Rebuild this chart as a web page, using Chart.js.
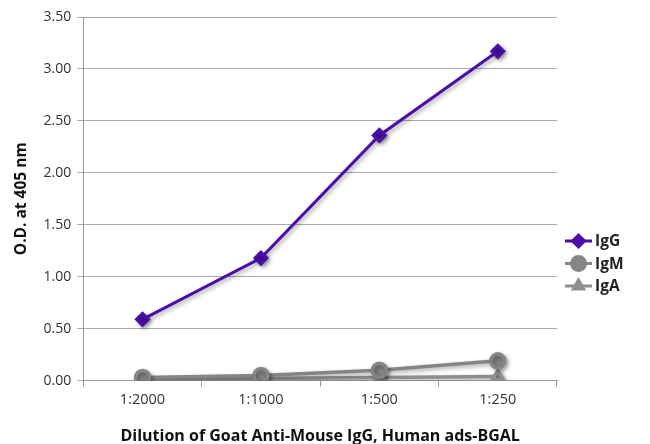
<!DOCTYPE html>
<html>
<head>
    <title>O.D. at 405 nm</title>
    <script src="https://cdn.jsdelivr.net/npm/chart.js"></script>
    <style>
        html, body { margin: 0; padding: 0; background: #fff; }
        #box { width: 650px; height: 444px; }
    </style>
</head>
<body>
    <div id="box"><canvas id="odChart"></canvas></div>

    <script>
        const dilutions = ['1:2000', '1:1000', '1:500', '1:250'];
        const igG = [0.59, 1.18, 2.36, 3.17];
        const igM = [0.03, 0.05, 0.10, 0.19];
        const igA = [0.01, 0.02, 0.03, 0.04];
        const seriesNames = ['IgG', 'IgM', 'IgA'];
        const yTicks = [0, 0.5, 1, 1.5, 2, 2.5, 3, 3.5];

        const fontFamily = '"Open Sans", "Noto Sans", sans-serif';

        // soft drop shadow under the lines, like the original
        const shadowPlugin = {
            id: 'shadow',
            beforeDatasetsDraw(chart) {
                const ctx = chart.ctx;
                ctx.save();
                ctx.shadowColor = 'rgba(0, 0, 0, 0.35)';
                ctx.shadowBlur = 4;
                ctx.shadowOffsetX = 2;
                ctx.shadowOffsetY = 2;
            },
            afterDatasetsDraw(chart) {
                chart.ctx.restore();
            }
        };

        // legend at right: line with marker, bold label
        const sideLegend = {
            id: 'sideLegend',
            afterDraw(chart) {
                const ctx = chart.ctx;
                const x0 = chart.chartArea.right + 8;
                let y = 241;
                chart.data.datasets.forEach((ds) => {
                    ctx.save();
                    ctx.strokeStyle = ds.borderColor;
                    ctx.fillStyle = ds.backgroundColor;
                    ctx.lineWidth = 3;
                    ctx.beginPath();
                    ctx.moveTo(x0, y);
                    ctx.lineTo(x0 + 27, y);
                    ctx.stroke();
                    Chart.helpers.drawPoint(ctx, {
                        pointStyle: ds.pointStyle,
                        radius: ds.pointRadius,
                        borderWidth: 1
                    }, x0 + 13.5, y);
                    ctx.fillStyle = '#222';
                    ctx.font = 'bold 15.5px ' + fontFamily;
                    ctx.textBaseline = 'middle';
                    ctx.fillText(ds.label, x0 + 30, y + 1);
                    ctx.restore();
                    y += 22.5;
                });
            }
        };

        const ctx = document.getElementById('odChart').getContext('2d');
        window.myChart = new Chart(ctx, {
            type: 'line',
            data: {
                labels: dilutions,
                datasets: [{
                    label: seriesNames[0],
                    data: igG,
                    borderColor: '#4b0fa8',
                    backgroundColor: '#4b0fa8',
                    pointStyle: 'rectRot',
                    pointRadius: 6,
                    borderWidth: 3
                }, {
                    label: seriesNames[1],
                    data: igM,
                    borderColor: '#858585',
                    backgroundColor: '#858585',
                    pointStyle: 'circle',
                    pointRadius: 7,
                    borderWidth: 3.5
                }, {
                    label: seriesNames[2],
                    data: igA,
                    borderColor: '#8e8e8e',
                    backgroundColor: '#8e8e8e',
                    pointStyle: 'triangle',
                    pointRadius: 6,
                    borderWidth: 3.5
                }]
            },
            options: {
                responsive: true,
                maintainAspectRatio: false,
                animation: false,
                layout: { padding: { top: 17, right: 93, left: 12, bottom: 0 } },
                plugins: {
                    legend: { display: false },
                    tooltip: { enabled: false }
                },
                scales: {
                    x: {
                        offset: true,
                        grid: {
                            offset: true,
                            drawOnChartArea: false,
                            color: '#999',
                            tickLength: 6
                        },
                        border: { color: '#999', width: 1 },
                        ticks: {
                            color: '#333',
                            font: { family: fontFamily, size: 14.5 },
                            padding: 5
                        },
                        title: {
                            display: true,
                            text: 'Dilution of Goat Anti-Mouse IgG, Human ads-BGAL',
                            color: '#111',
                            font: { family: fontFamily, size: 16, weight: 'bold', lineHeight: 1 },
                            padding: { top: 14, bottom: 0 }
                        }
                    },
                    y: {
                        min: 0,
                        max: 3.5,
                        afterBuildTicks(axis) {
                            axis.ticks = yTicks.map(v => ({ value: v }));
                        },
                        grid: { color: '#aaa', tickLength: 6 },
                        border: { color: '#999', width: 1 },
                        ticks: {
                            color: '#333',
                            font: { family: fontFamily, size: 14 },
                            padding: 6,
                            callback: (v) => Number(v).toFixed(2)
                        },
                        title: {
                            display: true,
                            text: 'O.D. at 405 nm',
                            color: '#111',
                            font: { family: fontFamily, size: 15.5, weight: 'bold' },
                            padding: { top: 0, bottom: 7 }
                        }
                    }
                }
            },
            plugins: [shadowPlugin, sideLegend]
        });
    </script>
</body>
</html>
